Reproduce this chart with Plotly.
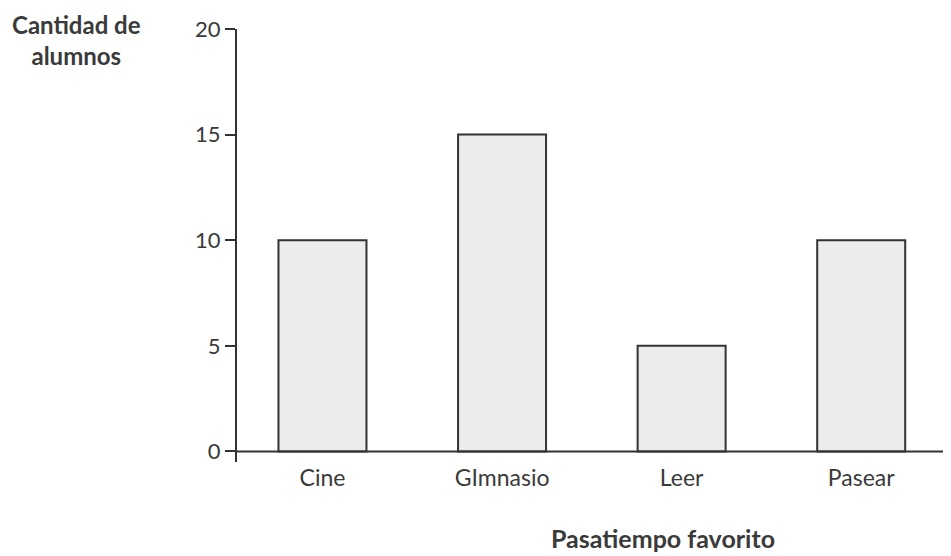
import plotly.graph_objects as go

categories = ["Cine", "GImnasio", "Leer", "Pasear"]
values = [10, 15, 5, 10]
y_ticks = [0, 5, 10, 15, 20]

TEXT = "#3a3a3a"
LINE = "#333333"
FONT = "Lato"

# the page body adds an 8px offset; compensate so the chart lands where the reference is
OFF = 8
PLOT_L, PLOT_R, PLOT_T, PLOT_B = 237, 951, 29, 462
PW = PLOT_R - PLOT_L

fig = go.Figure()
fig.add_trace(go.Bar(
    x=list(range(len(categories))), y=values, width=0.49,
    marker=dict(color="#ececec", line=dict(color=LINE, width=2)),
))

fig.update_layout(
    width=951 - OFF, height=556 - OFF,
    margin=dict(l=PLOT_L - OFF, r=0, t=PLOT_T - OFF, b=556 - PLOT_B, pad=0),
    paper_bgcolor="white", plot_bgcolor="white",
    showlegend=False,
    font=dict(family=FONT, color=TEXT, size=23),
    xaxis=dict(
        range=[-0.476, 3.5], tickmode="array",
        tickvals=list(range(len(categories))), ticktext=categories,
        showline=False, showgrid=False, zeroline=False, ticks="",
        tickfont=dict(size=23, color=TEXT),
    ),
    yaxis=dict(
        range=[-0.5, 20], tickmode="array", tickvals=y_ticks,
        ticktext=[str(v) for v in y_ticks],
        showline=True, linecolor=LINE, linewidth=2,
        ticks="outside", ticklen=10, tickwidth=2, tickcolor=LINE,
        showgrid=False, zeroline=False,
        tickfont=dict(size=22, color=TEXT),
    ),
    shapes=[dict(type="line", xref="paper", yref="y", x0=0, x1=1, y0=0, y1=0,
                 line=dict(color=LINE, width=2))],
    annotations=[
        dict(text="<b>Cantidad de</b><br><b>alumnos</b>", xref="paper", yref="paper",
             x=(76 - PLOT_L) / PW, y=1.0, yshift=-11, xanchor="center", yanchor="middle",
             showarrow=False, font=dict(size=24, color=TEXT, family=FONT), align="center"),
        dict(text="<b>Pasatiempo favorito</b>", xref="paper", yref="paper",
             x=(662.5 - PLOT_L) / PW, y=0, yshift=-(538 - PLOT_B), xanchor="center", yanchor="middle",
             showarrow=False, font=dict(size=25, color=TEXT, family=FONT)),
    ],
)

fig.write_html("out.html")
